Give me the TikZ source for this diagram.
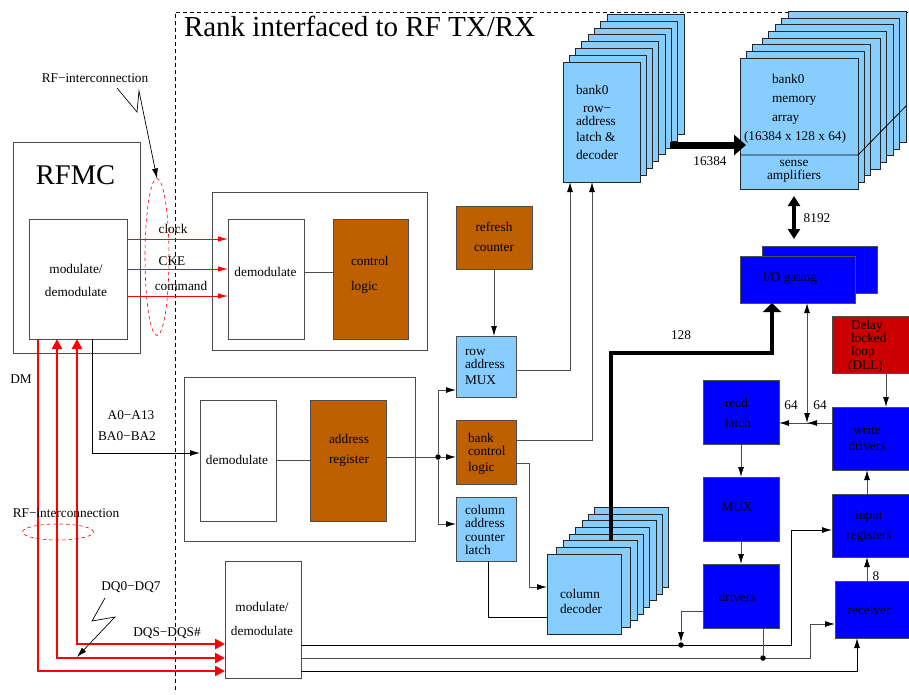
\documentclass[tikz,border=0pt]{standalone}
\usepackage{fontspec}
\setmainfont{Liberation Serif}
\usetikzlibrary{arrows.meta,calc,shapes.geometric}
\definecolor{skyb}{RGB}{135,206,255}
\definecolor{brn}{RGB}{191,96,0}
\definecolor{blu}{RGB}{0,0,255}
\definecolor{rd}{RGB}{204,0,0}
\definecolor{ln}{gray}{0.3}
\tikzset{
  blk/.style={draw=ln,line width=0.9pt,inner sep=0pt,outer sep=0pt},
  wht/.style={blk,fill=white},
  sky/.style={blk,fill=skyb},
  skyd/.style={blk,draw=black!85,fill=skyb},
  bro/.style={blk,fill=brn,draw=black!70},
  blue/.style={blk,fill=blu},
  dll/.style={blk,fill=rd},
  txt/.style={inner sep=0pt,outer sep=0pt,align=left,anchor=west,font=\fontsize{13.3}{13}\selectfont},
  ctx/.style={txt,align=center,anchor=center},
  big/.style={inner sep=0pt,font=\fontsize{28.5}{30}\selectfont},
  con/.style={draw=ln,line width=0.9pt,-{Latex[length=10pt,width=6pt,black]}},
  plain/.style={draw=ln,line width=0.9pt},
  redth/.style={draw=red,line width=0.9pt,-{Latex[length=10pt,width=5.5pt]}},
  redfat/.style={draw=red,line width=2.8pt},
  redell/.style={draw=red,line width=0.6pt,dash pattern=on 3.5pt off 3pt,ellipse,inner sep=0pt,outer sep=0pt},
  dot/.style={circle,fill=black,inner sep=0pt,minimum size=5.5pt},
}
\newcommand{\bx}[6][]{\node[#2,#1,minimum width={((#5)-(#3))*1pt},minimum height={((#6)-(#4))*1pt}] at ({((#3)+(#5))/2},{((#4)+(#6))/2})}
\begin{document}
\begin{tikzpicture}[x=1pt,y=-1pt]
\useasboundingbox (0,0) rectangle (909,694);
% frame of the rank
\coordinate (ft) at (175,690);
\coordinate (fc) at (175,12);
\coordinate (fr) at (909,12);
\draw[black,line width=0.7pt,dash pattern=on 4pt off 3pt] (ft) -- (fc) -- (fr);
\node[txt,font=\fontsize{29}{30}\selectfont] (title) at (184,26) {Rank interfaced to RF TX/RX};

% RFMC
\bx{wht}{13}{142}{140}{353} (rfmc) {};
\node[big] (rfmct) at (75.5,175) {RFMC};
\bx{wht}{29}{219}{127}{339} (modl) {};
\node[ctx,font=\fontsize{13.3}{23}\selectfont] (modlt) at (76,280) {modulate/\\demodulate};

% outer boxes
\bx{wht}{212}{192}{427}{350} (o1) {};
\bx{wht}{184}{377}{415}{541} (o2) {};
\bx{wht}{228}{219}{304}{339} (dem1) {};
\node[ctx] (dem1t) at (265.5,272) {demodulate};
\bx{bro}{333}{219}{408}{339} (ctl) {};
\node[txt,font=\fontsize{13.3}{25}\selectfont] (ctlt) at (351,274.5) {control\\logic};
\bx{wht}{200}{400}{276}{521} (dem2) {};
\node[ctx] (dem2t) at (237,460) {demodulate};
\bx{bro}{310}{400}{386}{521} (adr) {};
\node[ctx,font=\fontsize{13.3}{20}\selectfont] (adrt) at (349,450) {address\\register};
\draw[plain] (dem1.east |- 0,272) -- (ctl.west |- 0,272);
\draw[plain] (dem2.east |- 0,460) -- (adr.west |- 0,460);

% bottom modulate
\bx{wht}{225}{561}{301}{678} (modb) {};
\node[ctx,font=\fontsize{13.3}{24}\selectfont] (modbt) at (262,619) {modulate/\\demodulate};

% red ellipses
\node[redell,minimum width=24pt,minimum height=157pt] (el1) at (157,257) {};
\node[redell,minimum width=71pt,minimum height=16pt] (el2) at (58,532) {};

% red wires
\draw[redth] (modl.east |- 0,239) -- (dem1.west |- 0,239);
\draw[redth] (modl.east |- 0,269) -- (dem1.west |- 0,269);
\draw[redth] (modl.east |- 0,296) -- (dem1.west |- 0,296);
\node[ctx] (clk) at (173,229) {clock};
\node[ctx] (cke) at (172,261) {CKE};
\node[ctx] (cmd) at (181,286) {command};
\draw[redfat,-{Triangle[length=10pt,width=10pt]}] (modl.south -| 38,0) -- (38,671) -- (modb.west |- 0,671);
\draw[redfat,{Triangle[length=10pt,width=10pt]}-{Triangle[length=10pt,width=10pt]}] (modl.south -| 57,0) -- (57,658) -- (modb.west |- 0,658);
\draw[redfat,{Triangle[length=10pt,width=10pt]}-{Triangle[length=10pt,width=10pt]}] (modl.south -| 77,0) -- (77,644) -- (modb.west |- 0,644);

% labels and zigzags
\node[ctx] (rf1) at (95,78) {RF−interconnection};
\coordinate (z1a) at (117,88);
\coordinate (z1b) at (137,112);
\coordinate (z1c) at (139,91);
\draw[black,line width=0.7pt,-{Latex[length=10pt,width=6pt]}] (z1a) -- (z1b) -- (z1c) -- (el1.north);
\node[ctx] (rf2) at (66,513) {RF−interconnection};
\node[ctx] (dm) at (21,379) {DM};
\node[ctx] (a13) at (131,415) {A0−A13};
\node[ctx] (ba2) at (127,436) {BA0−BA2};
\node[ctx] (dq7) at (131,587) {DQ0−DQ7};
\node[ctx] (dqs) at (167,633) {DQS−DQS\#};
\coordinate (z2a) at (105,598);
\coordinate (z2b) at (92,621);
\coordinate (z2c) at (115,617);
\coordinate (z2d) at (77,657);
\draw[black,line width=0.7pt,-{Latex[length=10pt,width=6pt]}] (z2a) -- (z2b) -- (z2c) -- (z2d);

% address wire
\draw[con,draw=black] (modl.south -| 92,0) -- (92,453) -- (dem2.west |- 0,453);

% column blocks
\bx{bro}{456}{206}{532}{269} (rfr) {};
\node[ctx,font=\fontsize{13.3}{20}\selectfont] (rfrt) at (494,237) {refresh\\counter};
\bx{sky}{456}{336}{516}{397} (rmux) {};
\node[txt] (rmuxt) at (465,367) {row\\address\\[3pt]MUX};
\bx{bro}{456}{420}{516}{484} (bank) {};
\node[txt] (bankt) at (468,454) {bank\\control\\[3pt]logic};
\bx{sky}{456}{497}{516}{561} (cal) {};
\node[txt,font=\fontsize{13.3}{13.4}\selectfont] (calt) at (465,530) {column\\address\\counter\\latch};

% bank stack
\foreach \i/\dx/\dy in {7/44/47.5,6/37.7/40.7,5/31.4/33.9,4/25.1/27.1,3/18.8/20.4,2/12.6/13.6,1/6.3/6.8,0/0/0}{
  \bx{skyd}{563+\dx}{62-\dy}{640+\dx}{182-\dy} (rd\i) {};
}
\node[txt] (rdt) at (576,122) {bank0\\[5pt]\hspace*{7pt}row−\\address\\[3pt]latch \&\\[5pt]decoder};

% memory stack
\foreach \i/\dx/\dy in {7/48/46.7,6/41.3/40,5/35/33.3,4/28.7/26.7,3/22/20,2/12.7/13.3,1/6.3/6.7,0/0/0}{
  \bx{skyd}{740+\dx}{58-\dy}{858+\dx}{189-\dy} (mem\i) {};
}
\coordinate (sl) at (858,155);
\coordinate (sll) at (740,155);
\coordinate (sr) at (906,106);
\draw[black,line width=0.8pt] (sll) -- (sl) -- (sr);
\node[txt,font=\fontsize{13.3}{19}\selectfont] (memt) at (772,99) {bank0\\memory\\array};
\node[ctx] (memd) at (795,137) {(16384 x 128 x 64)};
\node[ctx] (sense) at (794,171.5) {sense\\amplifiers};
\node[ctx] (l16) at (710,161) {16384};
\node[ctx] (l81) at (817,218) {8192};

% column decoder stack
\foreach \i/\dx/\dy in {7/47/47,6/41/40,5/35/33.7,4/28.6/27,3/22.3/20,2/16/13.5,1/9.7/6.7,0/0/0}{
  \bx{skyd}{547+\dx}{554-\dy}{621+\dx}{634-\dy} (cd\i) {};
}
\node[txt,font=\fontsize{13.3}{15}\selectfont] (cdt) at (560,601.5) {column\\decoder};

% I/O gating
\bx{blue}{762}{246}{877}{293} (iob) {};
\bx{blue}{740}{256}{855}{303} (iof) {};
\node[ctx] (iot) at (790,279) {I/O gating};

% blue column
\bx{blue}{703}{380}{779}{444} (rl) {};
\node[txt,font=\fontsize{13.3}{20}\selectfont] (rlt) at (725,413) {read\\latch};
\bx{blue}{703}{477}{779}{541} (mx) {};
\node[ctx] (mxt) at (737,507) {MUX};
\bx{blue}{703}{564}{779}{628} (dr) {};
\node[ctx] (drt) at (737,597) {drivers};
\bx{dll}{832}{316}{909}{373} (dl) {};
\node[txt] (dlt1) at (851,339) {Delay\\locked\\loop};
\node[ctx] (dlt2) at (865.5,366) {(DLL)};
\bx{blue}{832}{407}{909}{470} (wd) {};
\node[ctx,font=\fontsize{13.3}{16}\selectfont] (wdt) at (867,438) {write\\drivers};
\bx{blue}{832}{494}{909}{557} (ir) {};
\node[ctx,font=\fontsize{13.3}{20}\selectfont] (irt) at (869,527) {input\\registers};
\bx{blue}{835}{581}{909}{638} (rc) {};
\node[ctx] (rct) at (869,610) {receiver};

% bank connectors
\draw[con] (rfr.south -| 494,0) -- (rmux.north -| 494,0);
\draw[con] (rmux.east |- 0,370) -- (570,370) -- (rd0.south -| 570,0);
\draw[con] (bank.east |- 0,440) -- (592,440) -- (rd0.south -| 592,0);
\coordinate (jn) at (438,457);
\draw[plain] (adr.east |- jn) -- (jn);
\node[dot] (jd) at (jn) {};
\draw[con] (jd) -- (438,390) -- (rmux.west |- 0,390);
\draw[con] (jd) -- (bank.west |- jn);
\draw[con] (jd) -- (438,524) -- (cal.west |- 0,524);
\draw[con] (bank.east |- 0,463) -- (529,463) -- (529,587) -- (cd0.west |- 0,587);
\draw[plain,draw=black] (cal.south -| 488,0) -- (488,617) -- (cd0.west |- 0,617);

% thick buses
\draw[black,line width=7pt,-{Triangle[length=12pt,width=20pt]}] (670,145) -- ([xshift=6pt]mem0.west |- 0,145);
\draw[black,line width=4pt,{Triangle[length=10pt,width=12pt]}-{Triangle[length=10pt,width=12pt]}] (794,196) -- (794,239);
\draw[black,line width=4.5pt,-{Triangle[length=9pt,width=18pt]}] (cd2.north -| 611,0) -- (611,353) -- (772,353) -- (iof.south -| 772,0);
\node[ctx] (l128) at (681,335) {128};

% I/O connectors
\coordinate (jw) at (807,423);
\draw[con,{Latex[length=10pt,width=6pt,black]}-{Latex[length=10pt,width=6pt,black]}] (iof.south -| jw) -- (jw);
\draw[con] (wd.west |- jw) -- (rl.east |- jw);
\draw[con] (wd.west |- jw) -- (jw);
\node[ctx] (l64a) at (791,405) {64};
\node[ctx] (l64b) at (820,405) {64};
\draw[con] (dl.south -| 886,0) -- (wd.north -| 886,0);
\draw[con] (ir.north -| 867,0) -- (wd.south -| 867,0);
\draw[con] (rc.north -| 867,0) -- (ir.south -| 867,0);
\node[ctx] (l8) at (876,576) {8};
\draw[con] (rl.south -| 741,0) -- (mx.north -| 741,0);
\draw[con] (mx.south -| 741,0) -- (dr.north -| 741,0);

% data wires
\draw[con,draw=black] (modb.east |- 0,645) -- (791,645) -- (791,530) -- (ir.west |- 0,530);
\draw[con] (modb.east |- 0,658) -- (810,658) -- (810,624) -- (rc.west |- 0,624);
\draw[con,draw=black] (modb.east |- 0,671) -- (857,671) -- (rc.south -| 857,0);
\node[dot] (d1) at (681,645) {};
\node[dot] (d2) at (763,658) {};
\draw[con] (dr.west |- 0,611) -- (681,611) -- (d1);
\draw[plain] (dr.south -| d2) -- (d2);
\end{tikzpicture}
\end{document}
